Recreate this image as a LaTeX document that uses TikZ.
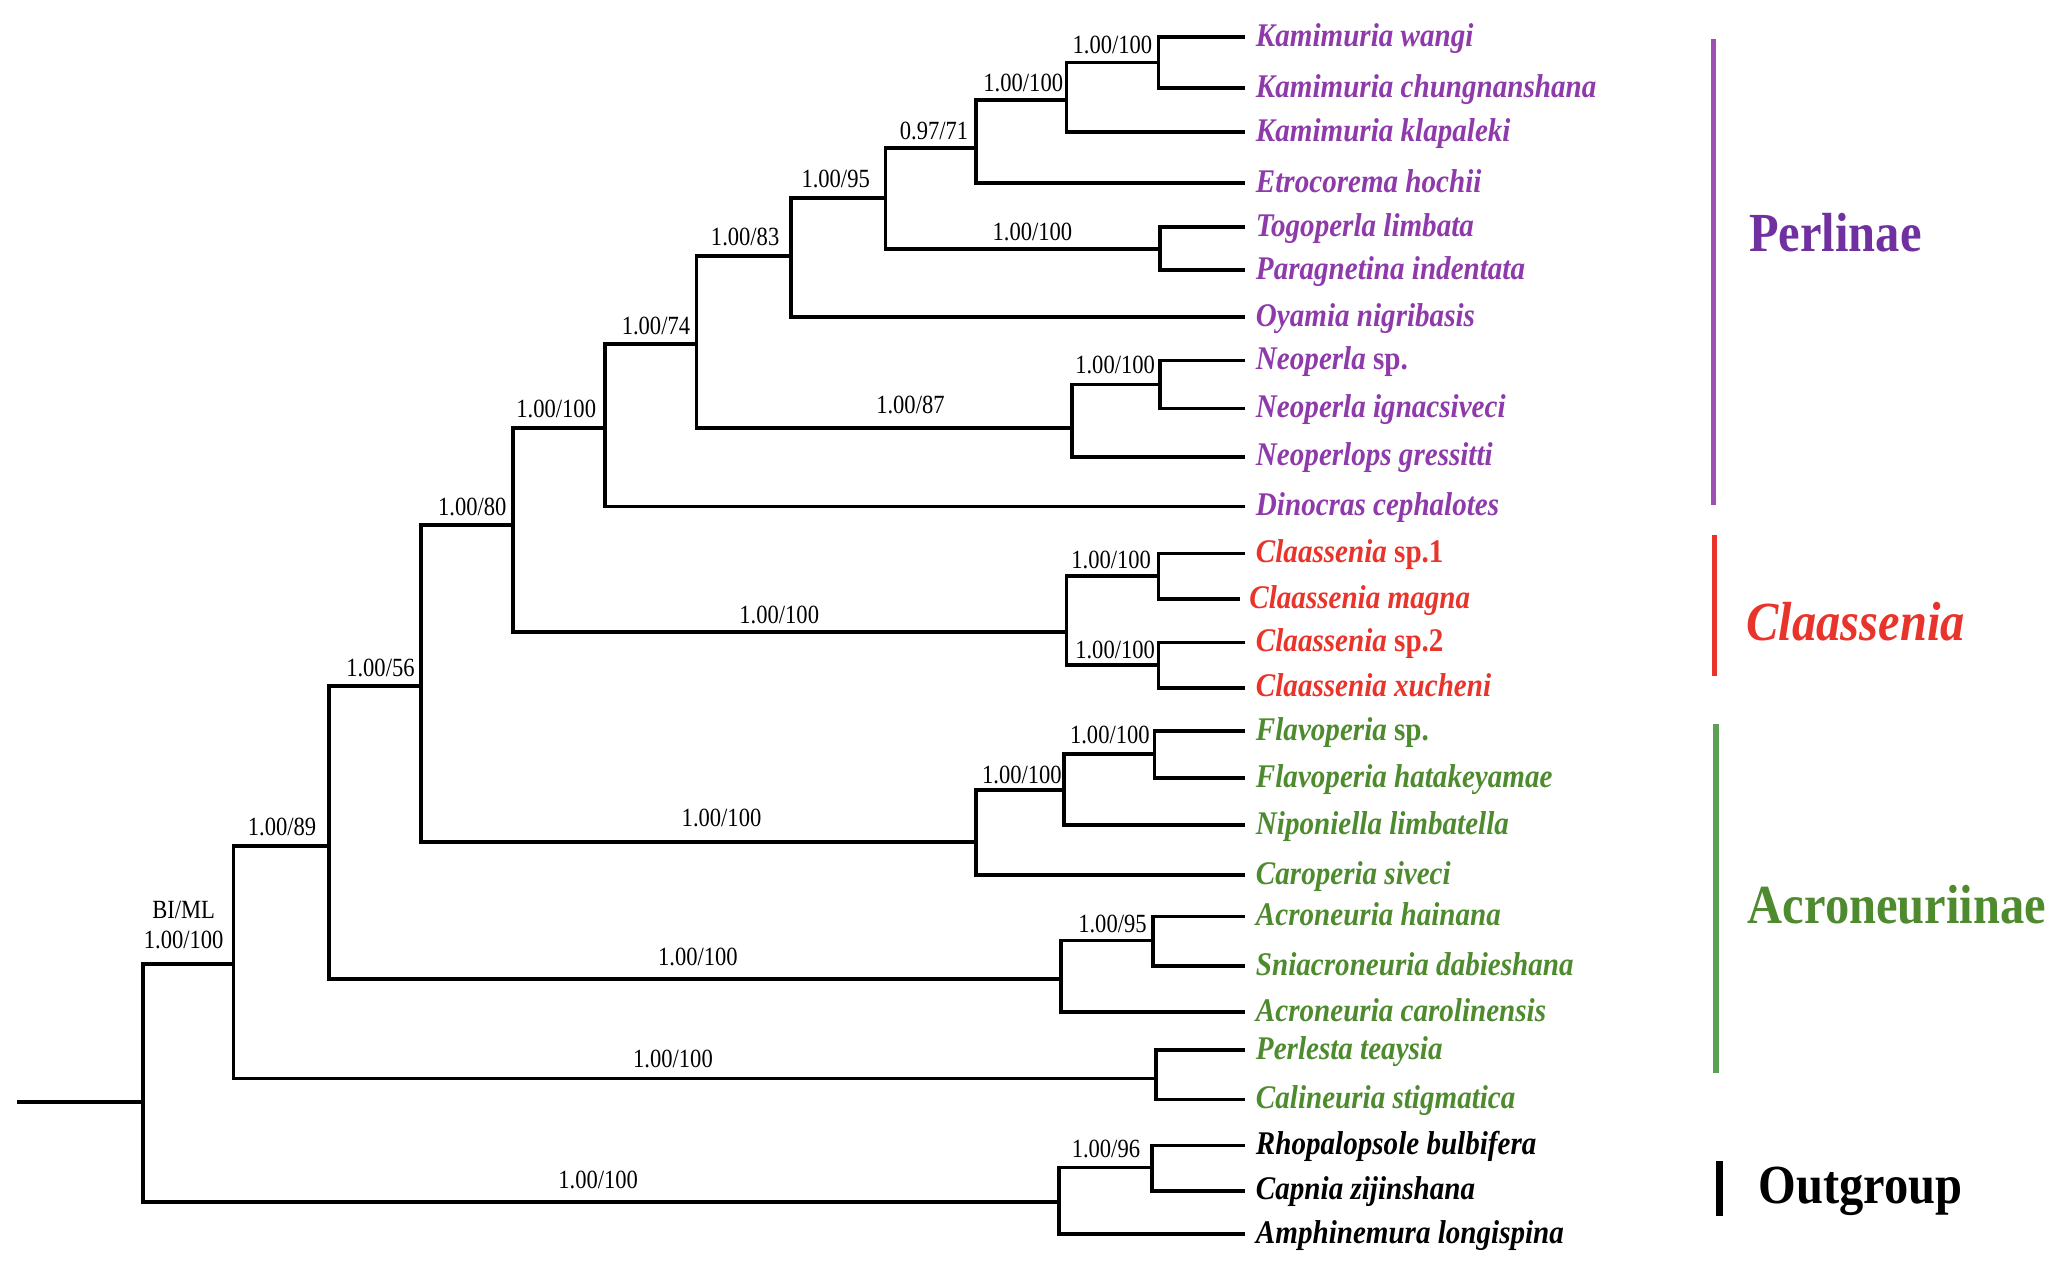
\documentclass[tikz,border=0pt]{standalone}
\usepackage{fontspec}
\setmainfont{Liberation Serif}
\newfontfamily\taxfont[FakeStretch=0.88]{Liberation Serif}
\newfontfamily\supfont[FakeStretch=0.86]{Liberation Serif}
\definecolor{perl}{RGB}{142,58,170}
\definecolor{perlbar}{RGB}{160,80,180}
\definecolor{perllab}{RGB}{112,48,160}
\definecolor{clas}{RGB}{232,52,42}
\definecolor{acro}{RGB}{78,138,46}
\definecolor{acrobar}{RGB}{92,160,85}
\begin{document}
\begin{tikzpicture}[x=0.5pt,y=-0.5pt,
  br/.style={line width=1.4pt, line cap=rect},
  taxon/.style={anchor=base west, inner sep=0pt, yshift=-1.5pt, font=\taxfont\fontsize{12.6}{14}\selectfont\bfseries\itshape},
  sup/.style={anchor=base, inner sep=0pt, font=\supfont\fontsize{10}{12}\selectfont},
  grp/.style={anchor=west, inner sep=0pt, font=\taxfont\fontsize{21}{24}\selectfont\bfseries},
  bar/.style={line width=2pt}]
\useasboundingbox (0,0) rectangle (1568,964);
% tip coordinates
\coordinate (c1) at (948,28.4);
\coordinate (c2) at (948,67);
\coordinate (c3) at (948,100.5);
\coordinate (c4) at (948,139.7);
\coordinate (c5) at (948,173.2);
\coordinate (c6) at (948,206);
\coordinate (c7) at (948,241.8);
\coordinate (c8) at (948,274.9);
\coordinate (c9) at (948,311.3);
\coordinate (c10) at (948,348.2);
\coordinate (c11) at (948,386.1);
\coordinate (c12) at (948,421.9);
\coordinate (c13) at (944,456.6);
\coordinate (c14) at (948,489.8);
\coordinate (c15) at (948,524.2);
\coordinate (c16) at (948,557.1);
\coordinate (c17) at (948,593.1);
\coordinate (c18) at (948,629);
\coordinate (c19) at (948,667.2);
\coordinate (c20) at (948,698.5);
\coordinate (c21) at (948,736.4);
\coordinate (c22) at (948,771.5);
\coordinate (c23) at (948,800.6);
\coordinate (c24) at (948,838.2);
\coordinate (c25) at (948,873.2);
\coordinate (c26) at (948,907.7);
\coordinate (c27) at (948,940.5);
% internal nodes
\coordinate (n1) at (883,47.7);
\coordinate (n2) at (813,76);
\coordinate (n3) at (744,113);
\coordinate (n4) at (884,190);
\coordinate (n5) at (675,151);
\coordinate (n6) at (603,195);
\coordinate (n7) at (884,293);
\coordinate (n8) at (817,326);
\coordinate (n9) at (531,262);
\coordinate (n10) at (461,326);
\coordinate (n11) at (883,439);
\coordinate (n12) at (883,507);
\coordinate (n13) at (813,482);
\coordinate (n14) at (391,400);
\coordinate (n15) at (880,575);
\coordinate (n16) at (811,602);
\coordinate (n17) at (744,642);
\coordinate (n18) at (321,523);
\coordinate (n19) at (879,717);
\coordinate (n20) at (809,746);
\coordinate (n21) at (251,645);
\coordinate (n22) at (881,822);
\coordinate (n23) at (178,735);
\coordinate (n24) at (878,890);
\coordinate (n25) at (807,916);
\coordinate (n26) at (109,840);
\coordinate (r0) at (14,840);
% branches
\draw[br] (n1) |- (c1); \draw[br] (n1) |- (c2);
\draw[br] (n2) |- (n1); \draw[br] (n2) |- (c3);
\draw[br] (n3) |- (n2); \draw[br] (n3) |- (c4);
\draw[br] (n4) |- (c5); \draw[br] (n4) |- (c6);
\draw[br] (n5) |- (n3); \draw[br] (n5) |- (n4);
\draw[br] (n6) |- (n5); \draw[br] (n6) |- (c7);
\draw[br] (n7) |- (c8); \draw[br] (n7) |- (c9);
\draw[br] (n8) |- (n7); \draw[br] (n8) |- (c10);
\draw[br] (n9) |- (n6); \draw[br] (n9) |- (n8);
\draw[br] (n10) |- (n9); \draw[br] (n10) |- (c11);
\draw[br] (n11) |- (c12); \draw[br] (n11) |- (c13);
\draw[br] (n12) |- (c14); \draw[br] (n12) |- (c15);
\draw[br] (n13) |- (n11); \draw[br] (n13) |- (n12);
\draw[br] (n14) |- (n10); \draw[br] (n14) |- (n13);
\draw[br] (n15) |- (c16); \draw[br] (n15) |- (c17);
\draw[br] (n16) |- (n15); \draw[br] (n16) |- (c18);
\draw[br] (n17) |- (n16); \draw[br] (n17) |- (c19);
\draw[br] (n18) |- (n14); \draw[br] (n18) |- (n17);
\draw[br] (n19) |- (c20); \draw[br] (n19) |- (c21);
\draw[br] (n20) |- (n19); \draw[br] (n20) |- (c22);
\draw[br] (n21) |- (n18); \draw[br] (n21) |- (n20);
\draw[br] (n22) |- (c23); \draw[br] (n22) |- (c24);
\draw[br] (n23) |- (n21); \draw[br] (n23) |- (n22);
\draw[br] (n24) |- (c25); \draw[br] (n24) |- (c26);
\draw[br] (n25) |- (n24); \draw[br] (n25) |- (c27);
\draw[br] (n26) |- (n23); \draw[br] (n26) |- (n25);
\draw[br] (r0) -- (n26);
% taxa
\begin{scope}[every node/.append style={taxon}]
\node[text=perl] (t1) at (957,32.4) {Kamimuria wangi};
\node[text=perl] (t2) at (957,71) {Kamimuria chungnanshana};
\node[text=perl] (t3) at (957,104.5) {Kamimuria klapaleki};
\node[text=perl] (t4) at (957,143.7) {Etrocorema hochii};
\node[text=perl] (t5) at (957,177.2) {Togoperla limbata};
\node[text=perl] (t6) at (957,210) {Paragnetina indentata};
\node[text=perl] (t7) at (957,245.8) {Oyamia nigribasis};
\node[text=perl] (t8) at (957,278.9) {Neoperla \upshape sp.};
\node[text=perl] (t9) at (957,315.3) {Neoperla ignacsiveci};
\node[text=perl] (t10) at (957,352.2) {Neoperlops gressitti};
\node[text=perl] (t11) at (957,390.1) {Dinocras cephalotes};
\node[text=clas] (t12) at (957,425.9) {Claassenia \upshape sp.1};
\node[text=clas] (t13) at (952,460.6) {Claassenia magna};
\node[text=clas] (t14) at (957,493.8) {Claassenia \upshape sp.2};
\node[text=clas] (t15) at (957,528.2) {Claassenia xucheni};
\node[text=acro] (t16) at (957,561.1) {Flavoperia \upshape sp.};
\node[text=acro] (t17) at (957,597.1) {Flavoperia hatakeyamae};
\node[text=acro] (t18) at (957,633) {Niponiella limbatella};
\node[text=acro] (t19) at (957,671.2) {Caroperia siveci};
\node[text=acro] (t20) at (957,702.5) {Acroneuria hainana};
\node[text=acro] (t21) at (957,740.4) {Sniacroneuria dabieshana};
\node[text=acro] (t22) at (957,775.5) {Acroneuria carolinensis};
\node[text=acro] (t23) at (957,804.6) {Perlesta teaysia};
\node[text=acro] (t24) at (957,842.2) {Calineuria stigmatica};
\node (t25) at (957,877.2) {Rhopalopsole bulbifera};
\node (t26) at (957,911.7) {Capnia zijinshana};
\node (t27) at (957,944.5) {Amphinemura longispina};
\end{scope}
% support values
\begin{scope}[every node/.append style={sup}]
\node (s1) at (848,41) {1.00/100};
\node (s2) at (780,70) {1.00/100};
\node (s3) at (712,106) {0.97/71};
\node (s4) at (637,143) {1.00/95};
\node (s5) at (568,187) {1.00/83};
\node (s6) at (500,255) {1.00/74};
\node (s7) at (424,318) {1.00/100};
\node (s8) at (360,393) {1.00/80};
\node (s9) at (290,516) {1.00/56};
\node (s10) at (215,637) {1.00/89};
\node (s11) at (140,700) {BI/ML};
\node (s12) at (140,723) {1.00/100};
\node (s13) at (787,183) {1.00/100};
\node (s14) at (850,285) {1.00/100};
\node (s15) at (694,315) {1.00/87};
\node (s16) at (847,433) {1.00/100};
\node (s17) at (594,475) {1.00/100};
\node (s18) at (850,502) {1.00/100};
\node (s19) at (846,567) {1.00/100};
\node (s20) at (779,597) {1.00/100};
\node (s21) at (550,630) {1.00/100};
\node (s22) at (848,711) {1.00/95};
\node (s23) at (532,736) {1.00/100};
\node (s24) at (513,814) {1.00/100};
\node (s25) at (843,882) {1.00/96};
\node (s26) at (456,906) {1.00/100};
\end{scope}
% group bars
\coordinate (p1) at (1306,30); \coordinate (p2) at (1306,385);
\coordinate (q1) at (1307,408); \coordinate (q2) at (1307,515);
\coordinate (a1) at (1308,552); \coordinate (a2) at (1308,818);
\coordinate (o1) at (1311,885); \coordinate (o2) at (1311,927);
\draw[bar, perlbar] (p1) -- (p2);
\draw[bar, clas] (q1) -- (q2);
\draw[bar, acrobar] (a1) -- (a2);
\draw[line width=2.6pt] (o1) -- (o2);
\node[grp, text=perllab] (g1) at (1333,177) {Perlinae};
\node[grp, text=clas] (g2) at (1331,474) {\itshape Claassenia};
\node[grp, text=acro] (g3) at (1332,690) {Acroneuriinae};
\node[grp] (g4) at (1340,908) {Outgroup};
\end{tikzpicture}
\end{document}
